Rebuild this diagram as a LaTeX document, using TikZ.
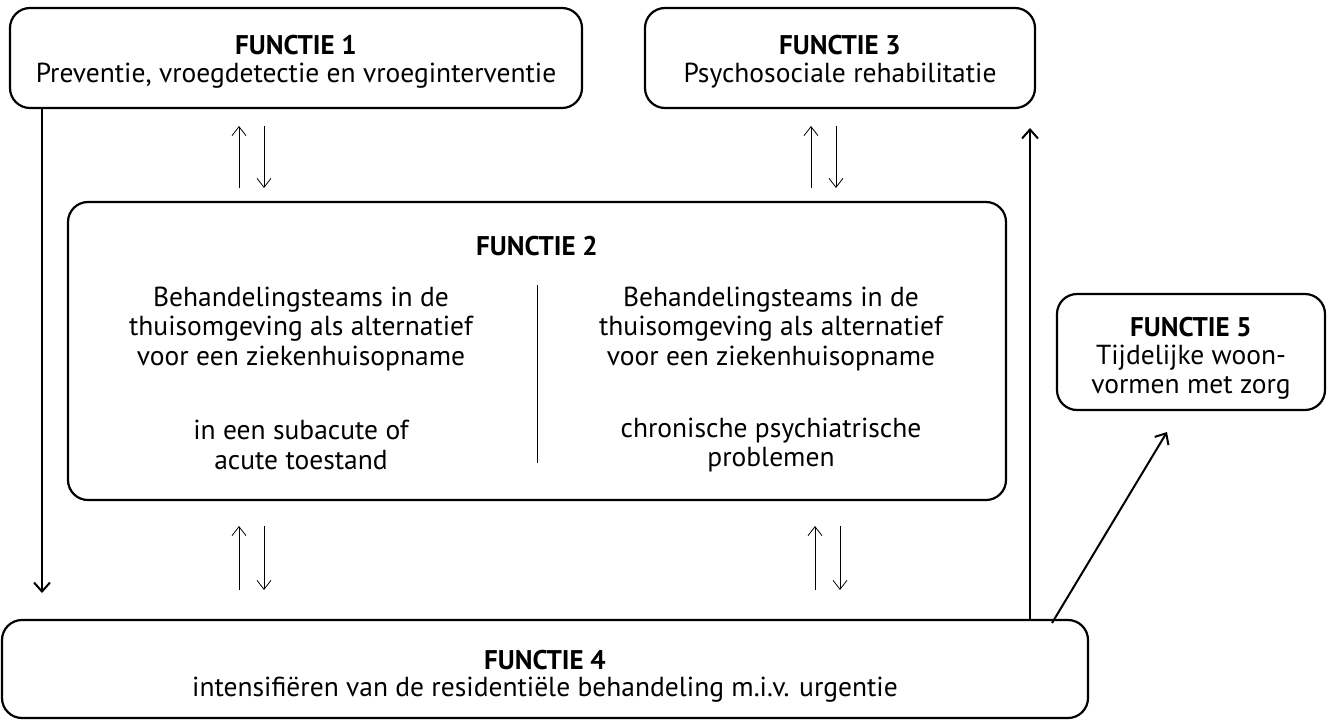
\documentclass[tikz,border=0pt]{standalone}
\usepackage{fontspec}
\setmainfont{PT Sans}
\usetikzlibrary{arrows.meta,calc}
\begin{document}
\begin{tikzpicture}[x=1pt,y=-1pt,
  box/.style={draw,line width=2.2pt,rounded corners=20pt,inner sep=0pt},
  ttl/.style={font=\fontsize{27}{29}\selectfont\bfseries},
  txt/.style={font=\fontsize{27.5}{29.5}\selectfont,align=center},
  thin/.style={line width=0.8pt,-{Straight Barb[length=9pt,width=14pt,line width=0.8pt]}},
  thick/.style={line width=2pt,-{Straight Barb[length=9pt,width=16pt,line width=2pt]}}]
\useasboundingbox (0,0) rectangle (1330,720);
% boxes
\node[box,minimum width=572pt,minimum height=100pt] (F1) at (296,58) {};
\node[box,minimum width=390pt,minimum height=100pt] (F3) at (840,58) {};
\node[box,minimum width=938pt,minimum height=298pt] (F2) at (537,351) {};
\node[box,minimum width=268pt,minimum height=116pt] (F5) at (1191,352) {};
\node[box,minimum width=1086pt,minimum height=98pt] (F4) at (545,669) {};
% texts
\node[ttl] (t1) at (296,45) {FUNCTIE 1};
\node[txt] (s1) at (296,76) {Preventie, vroegdetectie en vroeginterventie};
\node[ttl] (t3) at (840,45) {FUNCTIE 3};
\node[txt] (s3) at (840,76) {Psychosociale rehabilitatie};
\node[ttl] (t2) at (537,246) {FUNCTIE 2};
\node[txt] (l1) at (301,329) {Behandelingsteams in de\\thuisomgeving als alternatief\\voor een ziekenhuisopname};
\node[txt] (l2) at (301,445) {in een subacute of\\acute toestand};
\node[txt] (r1) at (771,329) {Behandelingsteams in de\\thuisomgeving als alternatief\\voor een ziekenhuisopname};
\node[txt] (r2) at (771,445) {chronische psychiatrische\\problemen};
\node[ttl] (t5) at (1191,327) {FUNCTIE 5};
\node[txt] (s5) at (1191,372) {Tijdelijke woon-\\vormen met zorg};
\node[ttl] (t4) at (545,660) {FUNCTIE 4};
\node[txt] (s4) at (545,690) {intensifiëren van de residentiële behandeling m.i.v. urgentie};
% divider
\coordinate (d1) at (537,285);
\coordinate (d2) at (537,463);
\draw[line width=0.6pt] (d1) -- (d2);
% long arrows
\coordinate (a1) at (42,593);
\draw[thick] (F1.south west -| a1) -- (a1);
\coordinate (a2) at (1030,128);
\draw[thick] (F4.north -| a2) -- (a2);
\coordinate (a3s) at (1052,623);
\coordinate (a3) at (1167,432);
\draw[thick] (a3s) -- (a3);
% pair arrows
\foreach \n/\x/\ya/\yb in {p1/239/188/126, p3/811/188/126, p5/239/590/526, p7/815/590/526}{
  \coordinate (\n a) at (\x,\ya);
  \coordinate (\n b) at (\x,\yb);
  \draw[thin] (\n a) -- (\n b);
  \coordinate (\n c) at (\x+25,\yb);
  \coordinate (\n d) at (\x+25,\ya);
  \draw[thin] (\n c) -- (\n d);
}
\end{tikzpicture}
\end{document}
